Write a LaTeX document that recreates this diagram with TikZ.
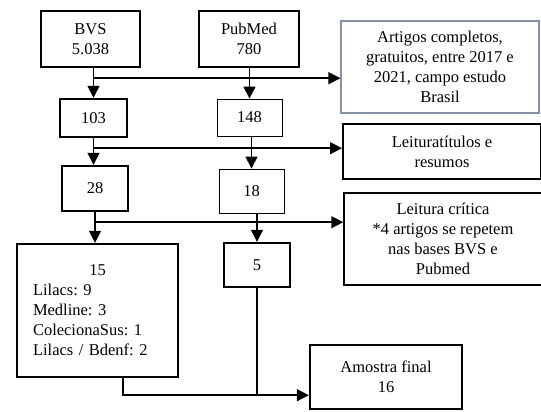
\documentclass[tikz,border=0pt]{standalone}
\usepackage{fontspec}
\setmainfont{Liberation Serif}
\usepackage[]{xcolor}
\usetikzlibrary{arrows.meta,calc}
\definecolor{bordacinza}{RGB}{132,145,165}

\begin{document}
\frenchspacing
\begin{tikzpicture}[
            x=1pt, y=-1pt,
            font=\fontsize{16.5}{20}\selectfont,
            caixa/.style={rectangle, draw, line width=2.4pt, inner sep=0pt, align=center},
            caixafina/.style={rectangle, draw, line width=0.9pt, inner sep=0pt, align=center},
            arrow/.style={-{Triangle[length=12pt,width=12pt]}, line width=1.5pt},
            linha/.style={line width=1.5pt}
        ]
            \useasboundingbox (0,0) rectangle (541,412);

            \node[caixa, minimum width=99pt, minimum height=56pt] (bvs) at (90.5,39) {BVS\\5.038};
            \node[caixa, minimum width=100pt, minimum height=56pt] (pubmed) at (249,39) {PubMed\\780};
            \node[caixafina, draw=bordacinza, line width=1.2pt, minimum width=198pt, minimum height=92pt] (artigos) at (440,67) {Artigos completos,\\gratuitos, entre 2017 e\\2021, campo estudo\\Brasil};

            \node[caixa, minimum width=67pt, minimum height=38pt] (n103) at (93.5,118) {103};
            \node[caixafina, minimum width=65pt, minimum height=37pt] (n148) at (249.5,117.5) {148};
            \node[caixa, line width=2pt, minimum width=198pt, minimum height=55pt] (titulos) at (442,151.5) {Leituratítulos e\\resumos};

            \node[caixa, minimum width=66pt, minimum height=45pt] (n28) at (95,188.5) {28};
            \node[caixafina, minimum width=65pt, minimum height=44pt] (n18) at (251.5,191) {18};
            \node[caixafina, line width=1.5pt, minimum width=198pt, minimum height=92pt] (critica) at (443,239) {Leitura crítica\\*4 artigos se repetem\\nas bases BVS e\\Pubmed};

            \node[caixa, minimum width=161pt, minimum height=133pt, text width=129pt, align=left] (n15) at (97.5,310.5) {\makebox[129pt]{15}\\Lilacs: 9\\Medline: 3\\ColecionaSus: 1\\Lilacs / Bdenf: 2\\[8pt]};
            \node[caixa, minimum width=66pt, minimum height=44pt] (n5) at (257,265) {5};
            \node[caixa, minimum width=152pt, minimum height=64pt] (amostra) at (386,377) {Amostra final\\16};

            \draw[arrow] (bvs.south -| n103.north) -- (n103.north);
            \draw[arrow] (pubmed.south -| n148.north) -- (n148.north);
            \coordinate (j1) at ($(bvs.south -| n103.north)+(0,10)$);
            \draw[arrow] (j1) -- (j1 -| artigos.west);

            \draw[arrow] (n103.south) -- (n103.south |- n28.north);
            \draw[arrow] (n148.south -| n18.north) -- (n18.north);
            \coordinate (j2) at ($(n103.south)+(0,10)$);
            \draw[arrow] (j2) -- (j2 -| titulos.west);

            \draw[arrow] (n28.south) -- (n28.south |- n15.north);
            \draw[arrow] (n18.south -| n5.north) -- (n5.north);
            \coordinate (j3) at ($(n28.south)+(0,10)$);
            \draw[arrow] (j3) -- (j3 -| critica.west);

            \coordinate (j4) at ($(n15.south)+(25.5,17)$);
            \draw[arrow] (n15.south -| j4) -- (j4) -- (j4 -| amostra.west);
            \draw[linha] (n5.south) -- (n5.south |- j4);
        \end{tikzpicture}
\end{document}
